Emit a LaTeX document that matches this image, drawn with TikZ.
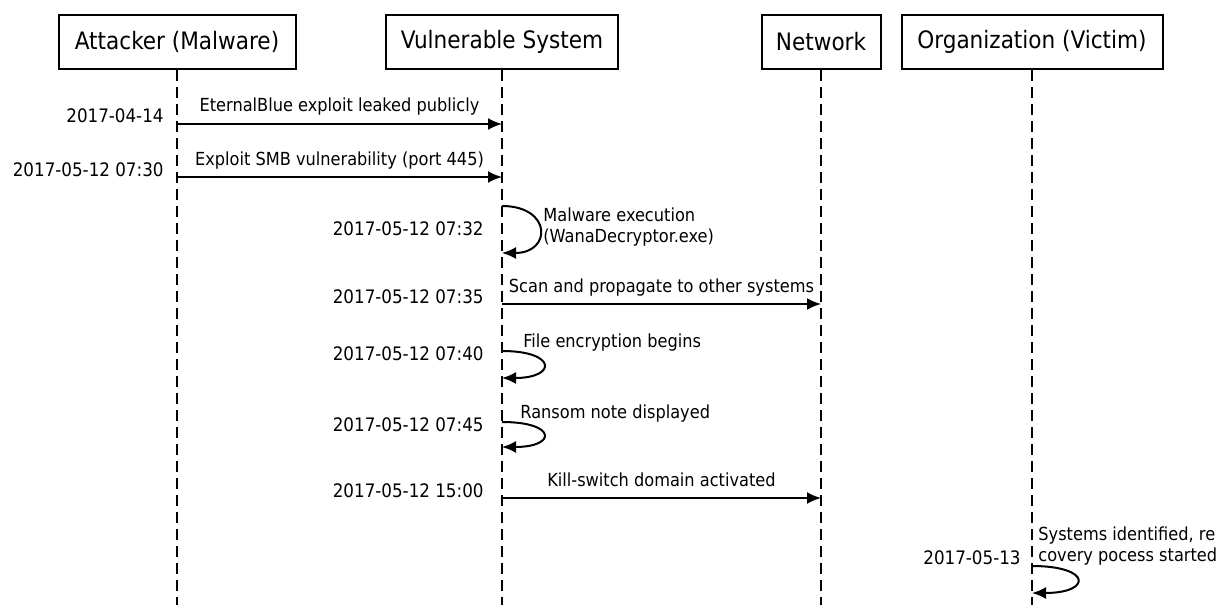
\documentclass[tikz,border=0pt]{standalone}
\usepackage{fontspec}
\setmainfont{DejaVu Sans Condensed}
\usetikzlibrary{arrows.meta}
\usetikzlibrary{calc}

\begin{document}
\begin{tikzpicture}[x=0.5pt, y=-0.5pt, font=\fontsize{9}{10.2}\selectfont]
    % WannaCry 감염 과정 시퀀스
    \tikzset{
        actor/.style={draw, line width=1pt, minimum height=27pt, inner sep=0pt, font=\fontsize{12}{14}\selectfont},
        lifeline/.style={line width=0.9pt, dash pattern=on 5.5pt off 3pt},
        msg/.style={-{Latex[length=7pt, width=6pt]}, line width=1pt},
        lbl/.style={inner sep=0pt, text height=.75em, text depth=.25em},
        stamp/.style={anchor=east, inner sep=0pt, font=\fontsize{9.3}{11}\selectfont},
    }
    \useasboundingbox (0,0) rectangle (1217,605);
    \def\xA{177}
    \def\xV{502}
    \def\xN{821}
    \def\xO{1032}
    \def\yb{42}
    \def\yend{615}

    % 참여자 상자와 생명선
    \node[actor, minimum width=118.5pt] (att) at (\xA,\yb) {Attacker (Malware)};
    \node[actor, minimum width=116pt] (vul) at (\xV,\yb) {Vulnerable System};
    \node[actor, minimum width=59.5pt] (net) at (\xN,\yb) {Network};
    \node[actor, minimum width=130.5pt] (org) at (\xO,\yb) {Organization (Victim)};
    \coordinate (att-end) at (\xA,\yend);
    \coordinate (vul-end) at (\xV,\yend);
    \coordinate (net-end) at (\xN,\yend);
    \coordinate (org-end) at (\xO,\yend);
    \draw[lifeline] (att.south) -- (att-end);
    \draw[lifeline] (vul.south) -- (vul-end);
    \draw[lifeline] (net.south) -- (net-end);
    \draw[lifeline] (org.south) -- (org-end);

    % 메시지
    \coordinate (m1a) at (\xA,124);
    \coordinate (m1b) at (\xV,124);
    \draw[msg] (m1a) -- node[lbl, above=3pt] {EternalBlue exploit leaked publicly} (m1b);
    \node[stamp] (t1) at ({\xA-13},116) {2017-04-14};

    \coordinate (m2a) at (\xA,177);
    \coordinate (m2b) at (\xV,177);
    \draw[msg] (m2a) -- node[lbl, above=3pt] {Exploit SMB vulnerability (port 445)} (m2b);
    \node[stamp] (t2) at ({\xA-13},170) {2017-05-12 07:30};

    \coordinate (s1a) at (\xV,206);
    \coordinate (s1b) at (\xV,253);
    \draw[msg] (s1a) .. controls +(50,0) and +(50,0) .. (s1b);
    \node[anchor=west, align=left, inner sep=0pt] (l3) at (543,227) {Malware execution\\(WanaDecryptor.exe)};
    \node[stamp] (t3) at ({\xV-18},229) {2017-05-12 07:32};

    \coordinate (m4a) at (\xV,304);
    \coordinate (m4b) at (\xN,304);
    \draw[msg] (m4a) -- node[lbl, above=3pt] {Scan and propagate to other systems} (m4b);
    \node[stamp] (t4) at ({\xV-18},297) {2017-05-12 07:35};

    \coordinate (s2a) at (\xV,351);
    \coordinate (s2b) at (\xV,378);
    \draw[msg] (s2a) .. controls +(55,0) and +(55,0) .. (s2b);
    \node[lbl, anchor=west] (l5) at (523,342) {File encryption begins};
    \node[stamp] (t5) at ({\xV-18},354) {2017-05-12 07:40};

    \coordinate (s3a) at (\xV,422);
    \coordinate (s3b) at (\xV,447);
    \draw[msg] (s3a) .. controls +(55,0) and +(55,0) .. (s3b);
    \node[lbl, anchor=west] (l6) at (520,413) {Ransom note displayed};
    \node[stamp] (t6) at ({\xV-18},425) {2017-05-12 07:45};

    \coordinate (m7a) at (\xV,498);
    \coordinate (m7b) at (\xN,498);
    \draw[msg] (m7a) -- node[lbl, above=3pt] {Kill-switch domain activated} (m7b);
    \node[stamp] (t7) at ({\xV-18},491) {2017-05-12 15:00};

    \coordinate (s4a) at (\xO,566);
    \coordinate (s4b) at (\xO,593);
    \draw[msg] (s4a) .. controls +(60,0) and +(60,0) .. (s4b);
    \node[anchor=west, align=left, inner sep=0pt] (l8) at (1038,546) {Systems identified, re\\covery pocess started};
    \node[stamp] (t8) at ({\xO-11},558) {2017-05-13};
\end{tikzpicture}
\end{document}
